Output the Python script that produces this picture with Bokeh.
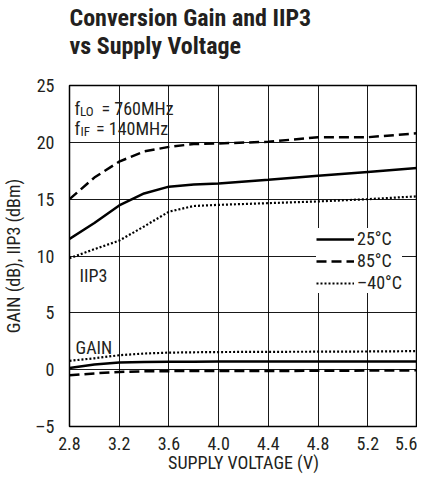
from bokeh.plotting import figure
from bokeh.models import FixedTicker, Legend, LegendItem, Label, Title
from bokeh.embed import file_html
from bokeh.resources import INLINE

FONT = "Roboto Condensed, Liberation Sans, sans-serif"
INK = "#231f20"

# ---- data ----
voltage = [2.8, 3.0, 3.2, 3.4, 3.6, 3.8, 4.0, 4.4, 4.8, 5.2, 5.6]
iip3_25 = [11.5, 12.9, 14.45, 15.5, 16.1, 16.3, 16.37, 16.7, 17.05, 17.4, 17.75]
iip3_85 = [15.0, 16.9, 18.3, 19.2, 19.6, 19.85, 19.9, 20.05, 20.45, 20.45, 20.8]
iip3_m40 = [9.8, 10.6, 11.35, 12.6, 13.9, 14.4, 14.5, 14.65, 14.8, 15.0, 15.25]
gain_25 = [0.15, 0.45, 0.62, 0.68, 0.7, 0.7, 0.72, 0.72, 0.72, 0.72, 0.72]
gain_85 = [-0.5, -0.33, -0.2, -0.15, -0.13, -0.12, -0.12, -0.12, -0.1, -0.08, -0.06]
gain_m40 = [0.78, 1.0, 1.27, 1.42, 1.5, 1.53, 1.55, 1.57, 1.58, 1.6, 1.63]

x_ticks = [2.8, 3.2, 3.6, 4.0, 4.4, 4.8, 5.2, 5.6]
x_tick_labels = ["2.8", "3.2", "3.6", "4.0", "4.4", "4.8", "5.2", "5.6"]
y_ticks = [-5, 0, 5, 10, 15, 20, 25]
y_tick_labels = ["\u20135", "0", "5", "10", "15", "20", "25"]
legend_labels = ["25\u00b0C", "85\u00b0C", "\u201340\u00b0C"]
title_text = "Conversion Gain and IIP3\nvs Supply Voltage"

p = figure(width=417, height=475, x_range=(2.8, 5.6), y_range=(-5, 25),
           output_backend="svg", toolbar_location=None, title_location=None,
           min_border_left=0, min_border_right=0, min_border_top=85,
           min_border_bottom=0)

# spacer between title and frame (added first = closest to the frame)
p.add_layout(Title(text=" ", text_font_size="8px", standoff=11), "above")
p.add_layout(Title(text=title_text, align="left", vertical_align="top",
                   text_font=FONT, text_font_size="24px", text_font_style="bold",
                   text_color=INK, standoff=4), "above")

p.outline_line_color = "black"
p.outline_line_width = 1.5

for ax in (p.xaxis, p.yaxis):
    ax.axis_line_color = None
    ax.major_tick_line_color = None
    ax.minor_tick_line_color = None
    ax.major_label_text_font = FONT
    ax.major_label_text_font_size = "18px"
    ax.major_label_text_color = INK
    ax.axis_label_text_font = FONT
    ax.axis_label_text_font_size = "18px"
    ax.axis_label_text_font_style = "normal"
    ax.axis_label_text_color = INK

p.xaxis.ticker = FixedTicker(ticks=x_ticks)
p.yaxis.ticker = FixedTicker(ticks=y_ticks)
p.xaxis.major_label_overrides = dict(zip(x_ticks, x_tick_labels))
p.yaxis.major_label_overrides = dict(zip(y_ticks, y_tick_labels))
p.xaxis.axis_label = "SUPPLY VOLTAGE (V)"
p.yaxis.axis_label = "GAIN (dB), IIP3 (dBm)"
p.xaxis.major_label_standoff = 4
p.yaxis.major_label_standoff = 9
p.xaxis.axis_label_standoff = -1
p.yaxis.axis_label_standoff = 8

p.xgrid.ticker = FixedTicker(ticks=x_ticks)
p.ygrid.ticker = FixedTicker(ticks=y_ticks)
for g in (p.xgrid, p.ygrid):
    g.grid_line_color = "black"
    g.grid_line_width = 1
    g.grid_line_alpha = 0.9

SOLID = dict(line_color="black", line_width=2.5)
DASH = dict(line_color="black", line_width=2.5, line_dash="10 5")
DOT = dict(line_color="black", line_width=2.2, line_dash="2 2")

r25 = p.line(voltage, iip3_25, **SOLID)
r85 = p.line(voltage, iip3_85, **DASH)
rm40 = p.line(voltage, iip3_m40, **DOT)
p.line(voltage, gain_25, **SOLID)
p.line(voltage, gain_85, **DASH)
p.line(voltage, gain_m40, **DOT)

legend = Legend(items=[LegendItem(label=legend_labels[0], renderers=[r25]),
                       LegendItem(label=legend_labels[1], renderers=[r85]),
                       LegendItem(label=legend_labels[2], renderers=[rm40])],
                location=(247, 133))
legend.background_fill_color = "white"
legend.background_fill_alpha = 1
legend.border_line_color = None
legend.label_text_font = FONT
legend.label_text_font_size = "18px"
legend.label_text_color = INK
legend.glyph_width = 38
legend.glyph_height = 20
legend.label_height = 20
legend.spacing = 1
legend.padding = 6
legend.label_standoff = 3
legend.margin = 0
p.add_layout(legend, "center")

X0, YTOP = x_ticks[0], y_ticks[-1]

def lab(text, dx, dy, size="18px", x=None, y=None):
    p.add_layout(Label(x=X0 if x is None else x, y=YTOP if y is None else y,
                       x_offset=dx, y_offset=dy, text=text,
                       text_font=FONT, text_font_size=size,
                       text_color=INK, text_baseline="alphabetic"))

# frequency note
lab("f", 5, -23)
lab("LO", 10.5, -26, "13px")
lab("= 760MHz", 32, -23)
lab("f", 5, -43)
lab("IF", 11, -46, "13px")
lab("= 140MHz", 26.5, -43)
# curve group labels
lab("IIP3", 10, -19.5, y=10)
lab("GAIN", 6, -34.5, y=5)

open("out.html", "w").write(file_html(p, INLINE))
